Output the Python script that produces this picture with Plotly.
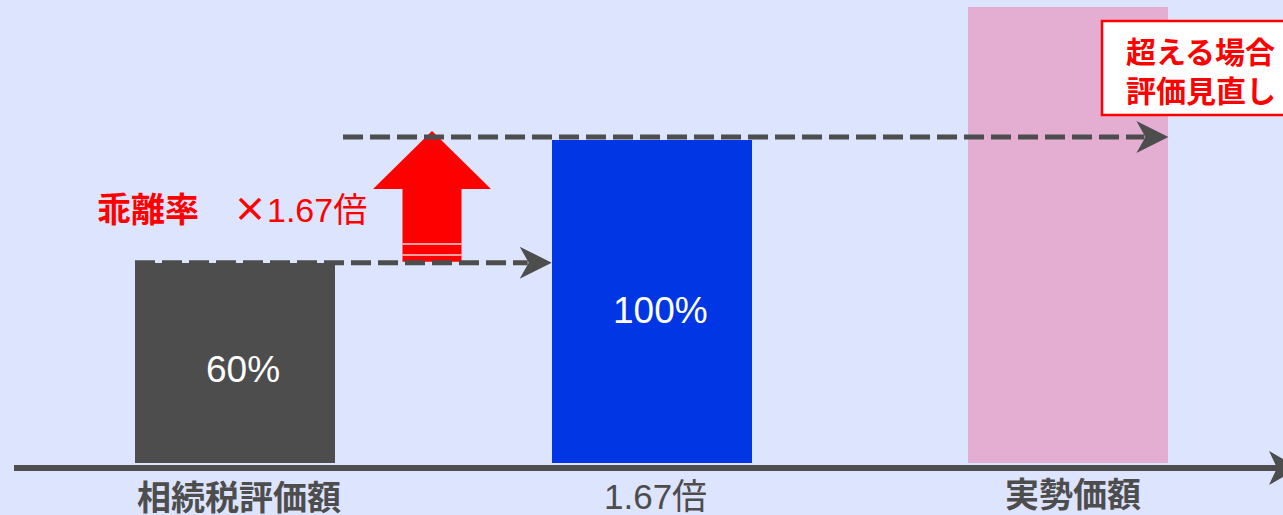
import plotly.graph_objects as go

# ---- data ----
categories = ["相続税評価額", "1.67倍", "実勢価額"]
category_bold = [True, False, True]
bar_heights = [62, 100, 141]
value_labels = ["60%", "100%", ""]
bar_colors = ["#4d4d4d", "#0036e3", "#e4aed3"]
ratio_label = "乖離率"
ratio_sign = "×"
ratio_value = "1.67倍"
note_lines = ["超える場合", "評価見直し"]

# ---- styling ----
BG = "#dde4fd"
DARK = "#4d4d4d"
RED = "#ff0000"
FONT = "Noto Sans CJK JP"
NUM_FONT = "Liberation Sans, Noto Sans CJK JP"
W, H = 1283, 515
X_RANGE = [-0.564, 2.515]
Y_RANGE = [-16.1, 143.3]
BAR_W = 0.48


def px_x(px):
    return X_RANGE[0] + px / W * (X_RANGE[1] - X_RANGE[0])


def px_y(py):
    return Y_RANGE[1] - py / H * (Y_RANGE[1] - Y_RANGE[0])


def to_px_x(x):
    return (x - X_RANGE[0]) / (X_RANGE[1] - X_RANGE[0]) * W


def to_px_y(y):
    return (Y_RANGE[1] - y) / (Y_RANGE[1] - Y_RANGE[0]) * H


def path(points):
    return "M " + " L ".join(f"{px_x(a)},{px_y(b)}" for a, b in points) + " Z"


def chevron(tx, ty, length=32, half=16, notch=9):
    return path([(tx, ty), (tx - length, ty - half), (tx - length + notch, ty),
                 (tx - length, ty + half)])


fig = go.Figure()
fig.add_trace(go.Bar(
    x=list(range(len(categories))), y=bar_heights, width=BAR_W,
    marker=dict(color=bar_colors, line=dict(width=0)),
    hoverinfo="skip", showlegend=False,
))

shapes = []
annotations = []

# baseline axis with arrow
axis_y = to_px_y(0) + 5
shapes.append(dict(type="line", xref="x", yref="y", x0=px_x(14), x1=px_x(1280),
                   y0=px_y(axis_y), y1=px_y(axis_y), line=dict(color=DARK, width=6)))
shapes.append(dict(type="path", xref="x", yref="y", path=chevron(1299, axis_y, 30, 17, 8),
                   fillcolor=DARK, line=dict(width=0)))

# red up arrow between the two levels
y_low = to_px_y(bar_heights[0]) - 1
y_top = to_px_y(bar_heights[1]) - 9
cx = 432
shapes.append(dict(type="path", xref="x", yref="y", layer="above",
                   path=path([(cx - 29.5, y_low), (cx - 29.5, 189), (cx - 59, 189), (cx, y_top),
                              (cx + 59, 189), (cx + 29.5, 189), (cx + 29.5, y_low)]),
                   fillcolor=RED, line=dict(width=0)))
for sy in (244, 255):
    shapes.append(dict(type="line", xref="x", yref="y", layer="above",
                       x0=px_x(cx - 29.5), x1=px_x(cx + 29.5), y0=px_y(sy), y1=px_y(sy),
                       line=dict(color="#ffd6d6", width=1.5)))

# lower dashed arrow: top of bar 1 -> left edge of bar 2
ly = to_px_y(bar_heights[0])
lx0 = to_px_x(0 - BAR_W / 2)
lx1 = to_px_x(1 - BAR_W / 2)
shapes.append(dict(type="line", xref="x", yref="y", layer="above",
                   x0=px_x(lx0), x1=px_x(lx1 - 24), y0=px_y(ly), y1=px_y(ly),
                   line=dict(color=DARK, width=5, dash="20px,7px")))
shapes.append(dict(type="path", xref="x", yref="y", layer="above",
                   path=chevron(lx1, ly), fillcolor=DARK, line=dict(width=0)))

# upper dashed arrow: level of bar 2 -> right edge of bar 3
uy = to_px_y(bar_heights[1]) - 3
ux0 = to_px_x(0 + BAR_W / 2) + 8
ux1 = to_px_x(2 + BAR_W / 2)
shapes.append(dict(type="line", xref="x", yref="y", layer="above",
                   x0=px_x(ux0), x1=px_x(ux1 - 24), y0=px_y(uy), y1=px_y(uy),
                   line=dict(color=DARK, width=5, dash="20px,7px")))
shapes.append(dict(type="path", xref="x", yref="y", layer="above",
                   path=chevron(ux1, uy), fillcolor=DARK, line=dict(width=0)))

# note box
shapes.append(dict(type="rect", xref="x", yref="y", layer="above",
                   x0=px_x(1102), x1=px_x(1300), y0=px_y(21), y1=px_y(115),
                   fillcolor="white", line=dict(color=RED, width=2.5)))
annotations.append(dict(xref="x", yref="y", x=px_x(1124), y=px_y(69),
                        xanchor="left", yanchor="middle", align="left", showarrow=False,
                        text="<br>".join(f"<b>{t}</b>" for t in note_lines),
                        font=dict(family=FONT, size=30, color=RED)))

# ratio text
annotations.append(dict(xref="x", yref="y", x=px_x(95), y=px_y(207),
                        xanchor="left", yanchor="middle", showarrow=False,
                        text=(f"<b>{ratio_label}</b>\u3000"
                              f"<span style='font-family:Noto Sans CJK JP'><b>{ratio_sign}</b></span>"
                              f"{ratio_value}"),
                        font=dict(family=NUM_FONT, size=34, color=RED)))

# value labels inside bars
label_offsets = [7, 9, 0]
for i, (h, lab) in enumerate(zip(bar_heights, value_labels)):
    if lab:
        annotations.append(dict(xref="x", yref="y", x=i + 0.02, y=px_y(to_px_y(h / 2) + label_offsets[i]),
                                xanchor="center", yanchor="middle", showarrow=False,
                                text=lab, font=dict(family=NUM_FONT, size=37, color="white")))

# category labels
cat_y = [495, 496, 492]
cat_fonts = [FONT, NUM_FONT, FONT]
cat_sizes = [34, 35, 34]
for i, (c, b) in enumerate(zip(categories, category_bold)):
    annotations.append(dict(xref="x", yref="y", x=i + 0.01, y=px_y(cat_y[i]),
                            xanchor="center", yanchor="middle", showarrow=False,
                            text=f"<b>{c}</b>" if b else c,
                            font=dict(family=cat_fonts[i], size=cat_sizes[i], color=DARK)))

fig.update_layout(
    width=W, height=H, margin=dict(l=0, r=0, t=0, b=0),
    paper_bgcolor=BG, plot_bgcolor=BG,
    xaxis=dict(visible=False, range=X_RANGE, fixedrange=True),
    yaxis=dict(visible=False, range=Y_RANGE, fixedrange=True),
    shapes=shapes, annotations=annotations, bargap=0,
    showlegend=False,
)
fig.write_html("out.html")
